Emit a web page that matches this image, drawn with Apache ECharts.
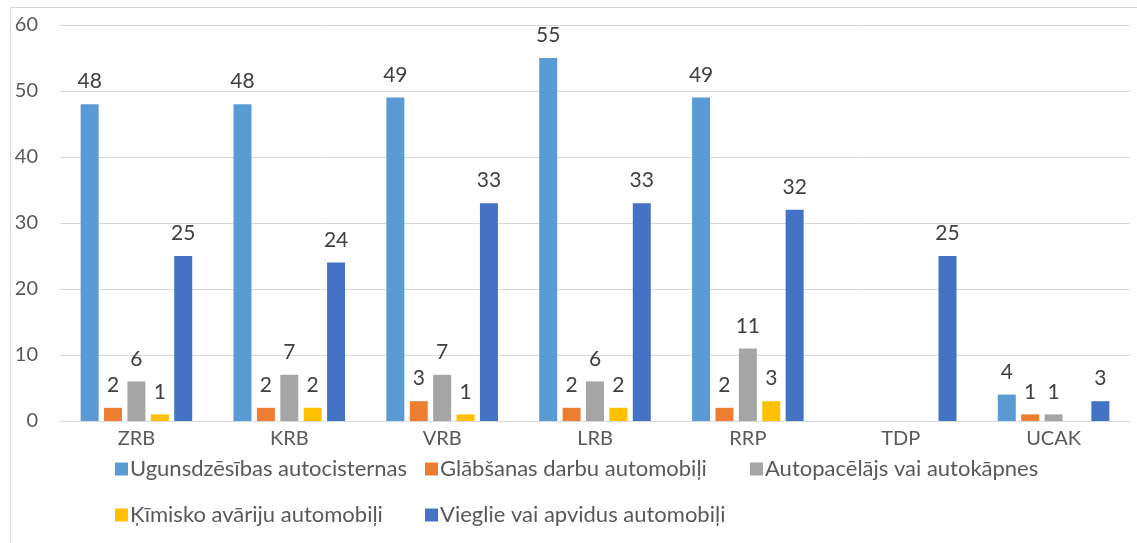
<!DOCTYPE html>
<html>
<head>
<meta charset="utf-8">
<script src="https://cdn.jsdelivr.net/npm/echarts@6/dist/echarts.min.js"></script>
<style>
  html, body { margin: 0; padding: 0; background: #fff; }
  #frame { position: absolute; left: 10px; top: 7px; width: 1140px; height: 560px;
           border-left: 1px solid #d9d9d9; border-top: 1px solid #d9d9d9; }
  #chart { position: absolute; left: 0; top: 0; width: 1137px; height: 543px; }
</style>
</head>
<body>
<div id="frame"></div>
<div id="chart"></div>
<script>
const categories = ['ZRB', 'KRB', 'VRB', 'LRB', 'RRP', 'TDP', 'UCAK']
const seriesNames = [
  'Ugunsdzēsības autocisternas',
  'Glābšanas darbu automobiļi',
  'Autopacēlājs vai autokāpnes',
  'Ķīmisko avāriju automobiļi',
  'Vieglie vai apvidus automobiļi'
]
const autocisternas = [48, 48, 49, 55, 49, null, 4]
const glabsanas = [2, 2, 3, 2, 2, null, 1]
const autopacelajs = [6, 7, 7, 6, 11, null, 1]
const kimisko = [1, 2, 1, 2, 3, null, null]
const vieglie = [25, 24, 33, 33, 32, 25, 3]
const yTicks = { min: 0, max: 60, interval: 10 }

const colors = ['#5B9BD5', '#ED7D31', '#A5A5A5', '#FFC000', '#4472C4']
const values = [autocisternas, glabsanas, autopacelajs, kimisko, vieglie]
const font = 'Lato, "Open Sans", sans-serif'

const chart = echarts.init(document.getElementById('chart'))

// legenda divās rindās, katrs ieraksts savā vietā
const legendPos = [[110, 453], [420, 453], [745, 453], [110, 499], [420, 499]]
const legends = seriesNames.map((name, i) => ({
  data: [name],
  left: legendPos[i][0],
  top: legendPos[i][1],
  itemWidth: 13,
  itemHeight: 13,
  itemGap: 0,
  icon: 'rect',
  textStyle: { fontFamily: font, fontSize: 22, color: '#595959', padding: [0, 0, 0, -3] }
}))

const series = seriesNames.map((name, i) => ({
  name: name,
  type: 'bar',
  data: values[i],
  itemStyle: { color: colors[i] },
  barGap: '30%',
  barCategoryGap: '27%',
  label: {
    show: true,
    position: 'top',
    distance: 12,
    fontFamily: font,
    fontSize: 21,
    color: '#404040'
  }
}))

chart.setOption({
  animation: false,
  color: colors,
  grid: { left: 60, right: 7, top: 25, bottom: 122 },
  legend: legends,
  xAxis: {
    type: 'category',
    data: categories,
    axisLine: { lineStyle: { color: '#d9d9d9', width: 1 } },
    axisTick: { show: false },
    axisLabel: { fontFamily: font, fontSize: 20, color: '#595959', margin: 8 }
  },
  yAxis: {
    type: 'value',
    min: yTicks.min,
    max: yTicks.max,
    interval: yTicks.interval,
    axisLine: { show: false },
    axisTick: { show: false },
    splitLine: { lineStyle: { color: '#d9d9d9' } },
    axisLabel: { fontFamily: font, fontSize: 20, color: '#595959', margin: 22 }
  },
  series: series
})
</script>
</body>
</html>
